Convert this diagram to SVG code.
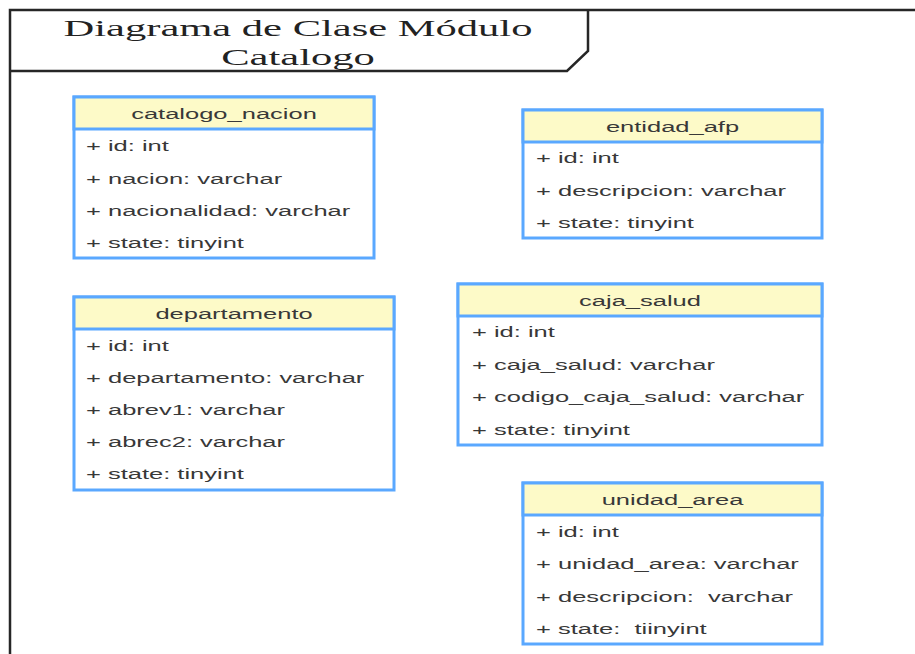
<svg xmlns="http://www.w3.org/2000/svg" width="915" height="654" viewBox="0 0 915 654">
<style>
.frame{fill:none;stroke:#262626;stroke-width:2.5}
.box{fill:#ffffff;stroke:#5aa8ff;stroke-width:3}
.hdr{fill:#fdfac8;stroke:#5aa8ff;stroke-width:3}
.t{font-family:"Liberation Sans",Arial,sans-serif;font-size:15px;fill:#383838;white-space:pre}
.h{font-family:"Liberation Sans",Arial,sans-serif;font-size:15px;fill:#383838;text-anchor:middle}
.ttl{font-family:"Liberation Serif","Times New Roman",serif;font-size:23.5px;fill:#222222;text-anchor:middle}
</style>
<rect width="915" height="654" fill="#ffffff"/>
<g id="frame">
<path class="frame" d="M10,654 V10 H915"/>
<path class="frame" d="M10,71 H567 L588,51 V10"/>
<text class="ttl" transform="translate(298,36) scale(1.81,1)">Diagrama de Clase Módulo</text>
<text class="ttl" transform="translate(298,65) scale(1.81,1)">Catalogo</text>
</g>
<g id="connectors"></g>
<g id="catalogo_nacion">
<rect class="box" x="74" y="97" width="300" height="161"/>
<rect class="hdr" x="74" y="97" width="300" height="32"/>
<text class="h" transform="translate(224,119) scale(1.7,1)">catalogo_nacion</text>
<text class="t" transform="translate(86,151) scale(1.7,1)">+ id: int</text>
<text class="t" transform="translate(86,184) scale(1.7,1)">+ nacion: varchar</text>
<text class="t" transform="translate(86,216) scale(1.7,1)">+ nacionalidad: varchar</text>
<text class="t" transform="translate(86,248) scale(1.7,1)">+ state: tinyint</text>
</g>
<g id="entidad_afp">
<rect class="box" x="523" y="110" width="299" height="128"/>
<rect class="hdr" x="523" y="110" width="299" height="32"/>
<text class="h" transform="translate(672.5,132) scale(1.7,1)">entidad_afp</text>
<text class="t" transform="translate(536,163) scale(1.7,1)">+ id: int</text>
<text class="t" transform="translate(536,196) scale(1.7,1)">+ descripcion: varchar</text>
<text class="t" transform="translate(536,228) scale(1.7,1)">+ state: tinyint</text>
</g>
<g id="departamento">
<rect class="box" x="74" y="297" width="320" height="193"/>
<rect class="hdr" x="74" y="297" width="320" height="32"/>
<text class="h" transform="translate(234,319) scale(1.7,1)">departamento</text>
<text class="t" transform="translate(86,351) scale(1.7,1)">+ id: int</text>
<text class="t" transform="translate(86,383) scale(1.7,1)">+ departamento: varchar</text>
<text class="t" transform="translate(86,415) scale(1.7,1)">+ abrev1: varchar</text>
<text class="t" transform="translate(86,447) scale(1.7,1)">+ abrec2: varchar</text>
<text class="t" transform="translate(86,479) scale(1.7,1)">+ state: tinyint</text>
</g>
<g id="caja_salud">
<rect class="box" x="458" y="284" width="364" height="161"/>
<rect class="hdr" x="458" y="284" width="364" height="32"/>
<text class="h" transform="translate(640,306) scale(1.7,1)">caja_salud</text>
<text class="t" transform="translate(472,337) scale(1.7,1)">+ id: int</text>
<text class="t" transform="translate(472,370) scale(1.7,1)">+ caja_salud: varchar</text>
<text class="t" transform="translate(472,402) scale(1.7,1)">+ codigo_caja_salud: varchar</text>
<text class="t" transform="translate(472,435) scale(1.7,1)">+ state: tinyint</text>
</g>
<g id="unidad_area">
<rect class="box" x="523" y="483" width="299" height="161"/>
<rect class="hdr" x="523" y="483" width="299" height="32"/>
<text class="h" transform="translate(672.5,505) scale(1.7,1)">unidad_area</text>
<text class="t" transform="translate(536,537) scale(1.7,1)">+ id: int</text>
<text class="t" transform="translate(536,569) scale(1.7,1)">+ unidad_area: varchar</text>
<text class="t" transform="translate(536,602) scale(1.7,1)">+ descripcion:  varchar</text>
<text class="t" transform="translate(536,634) scale(1.7,1)">+ state:  tiinyint</text>
</g>
</svg>
